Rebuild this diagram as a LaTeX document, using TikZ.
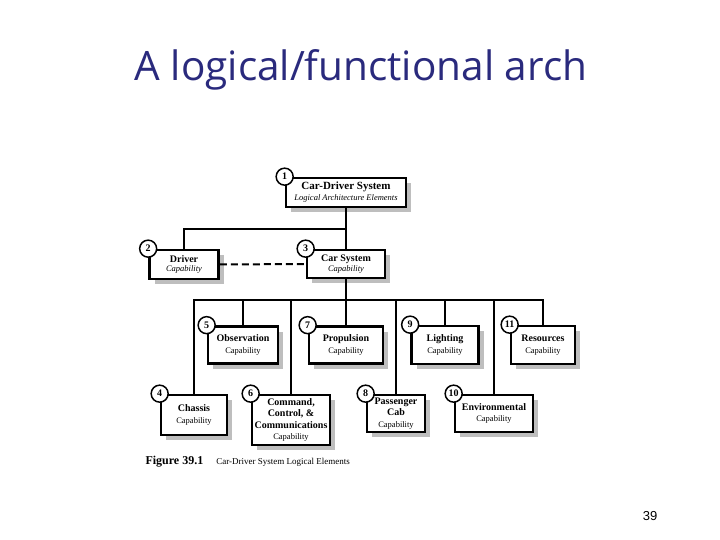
\documentclass[tikz,border=0pt]{standalone}
\usepackage{fontspec}
\setmainfont{Liberation Serif}
\newfontfamily\titlefont{Open Sans}
\newfontfamily\pagefont{Liberation Sans}
\usepackage{tikz}
\usetikzlibrary{positioning,shadows}
\definecolor{titleblue}{RGB}{42,42,125}
\definecolor{shadowgray}{RGB}{190,190,190}
\tikzset{
  archbox/.style={draw, line width=2.7pt, fill=white, align=center, inner sep=1pt,
                  font=\bfseries\fontsize{10}{11.5}\selectfont,
                  drop shadow={shadow xshift=5pt, shadow yshift=-5pt, fill=shadowgray, opacity=1}},
  numtag/.style={circle, draw, line width=1.5pt, fill=white, minimum size=17pt, inner sep=0pt,
                 font=\bfseries\fontsize{10}{10}\selectfont},
  link/.style={line width=2.5pt},
  dashlink/.style={line width=2pt, dash pattern=on 7pt off 4pt},
}
\newcommand{\capab}{\mdseries\fontsize{8.5}{10}\selectfont Capability}
\newcommand{\capabit}{\mdseries\itshape\fontsize{8.5}{10}\selectfont Capability}

\begin{document}
\begin{tikzpicture}[x=1pt, y=-1pt]
  \useasboundingbox (0,0) rectangle (720,540);
  \node[font=\titlefont\fontsize{40.5}{44}\selectfont, text=titleblue] (title) at (361,70)
       {A logical/functional arch};
  \node[font=\pagefont\fontsize{13}{13}\selectfont] (pageno) at (650,516) {39};

  \node[archbox, minimum width=120pt, minimum height=29pt, font=\bfseries\fontsize{11}{12}\selectfont] (n1) at (346,192.5)
       {Car-Driver System\\[-1pt] \mdseries\itshape\fontsize{8.5}{10}\selectfont Logical Architecture Elements};
  \node[archbox, minimum width=69pt, minimum height=29pt] (n2) at (184,264.5)
       {Driver\\[-2pt] \capabit};
  \node[archbox, minimum width=78pt, minimum height=28pt] (n3) at (346,264)
       {Car System\\[-2pt] \capabit};

  \node[archbox, minimum width=70pt, minimum height=37pt] (n5) at (243,345)
       {Observation\\ \capab};
  \node[archbox, minimum width=74pt, minimum height=37pt] (n7) at (346,345)
       {Propulsion\\ \capab};
  \node[archbox, minimum width=67pt, minimum height=38pt] (n9) at (445,345)
       {Lighting\\ \capab};
  \node[archbox, minimum width=64pt, minimum height=38pt] (n11) at (543,345)
       {Resources\\ \capab};

  \node[archbox, minimum width=66pt, minimum height=40pt] (n4) at (194,415)
       {Chassis\\ \capab};
  \node[archbox, minimum width=78pt, minimum height=50pt] (n6) at (291,420)
       {Command,\\ Control, \&\\ Communications\\ \capab};
  \node[archbox, minimum width=58pt, minimum height=37pt] (n8) at (396,413.5)
       {Passenger\\ Cab\\ \capab};
  \node[archbox, minimum width=78pt, minimum height=37pt] (n10) at (494,413.5)
       {Environmental\\ \capab};

  \coordinate (j1) at (346,229);
  \coordinate (j2) at (346,300);
  \draw[link] (n1.south) -- (n3.north);
  \draw[link] (n2.north) |- (j1);
  \draw[dashlink] (n2.east) -- (n3.west);
  \draw[link] (n3.south) -- (n7.north);
  \foreach \k in {4,5,6,8,9,10,11}
    \draw[link] (n\k.north) |- (j2);

  \foreach \k in {1,...,11}
    \node[numtag] (c\k) at (n\k.north west) {\k};

  \node[anchor=west, font=\bfseries\fontsize{12}{14}\selectfont] (figlabel) at (142,462) {Figure 39.1};
  \node[right=6pt of figlabel, font=\fontsize{9}{11}\selectfont] (figcaption)
       {Car-Driver System Logical Elements};
\end{tikzpicture}
\end{document}
